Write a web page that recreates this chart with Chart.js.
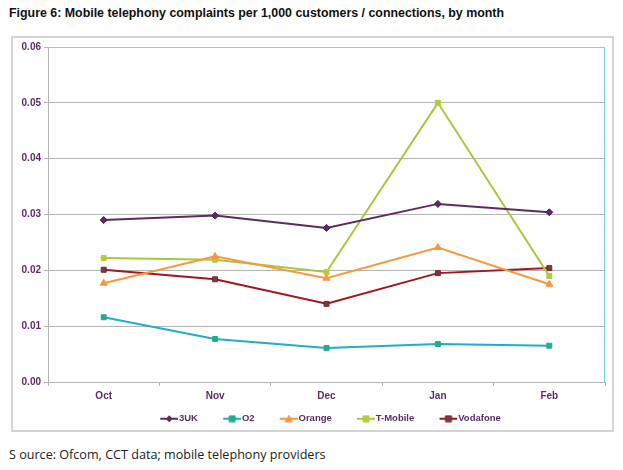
<!DOCTYPE html>
<html>
<head>
<meta charset="utf-8">
<script src="https://cdn.jsdelivr.net/npm/chart.js@4/dist/chart.umd.min.js"></script>
<style>
  html, body { margin: 0; padding: 0; background: #fff; }
  body { width: 623px; height: 470px; position: relative; overflow: hidden; }
  #title {
    position: absolute; left: 9px; top: 6px;
    font: bold 12.4px "Liberation Sans", Arial, sans-serif; color: #111;
    white-space: nowrap;
  }
  #frame {
    position: absolute; left: 11px; top: 36px; width: 599px; height: 392px;
    border: 2px solid #d4d4d4;
  }
  #source {
    position: absolute; left: 9px; top: 446px;
    font: 12.6px "Open Sans", "DejaVu Sans", sans-serif; color: #222;
    white-space: nowrap;
  }
</style>
</head>
<body>
<div id="title">Figure 6: Mobile telephony complaints per 1,000 customers / connections, by month</div>
<div id="frame"><canvas id="chart" width="599" height="392"></canvas></div>
<div id="source">S ource: Ofcom, CCT data; mobile telephony providers</div>

<script>
// Chart data
const months = ['Oct', 'Nov', 'Dec', 'Jan', 'Feb'];
const yTicks = [0, 0.01, 0.02, 0.03, 0.04, 0.05, 0.06];

const threeUK  = [0.0290, 0.0298, 0.0276, 0.0319, 0.0304];
const o2       = [0.0116, 0.0077, 0.0061, 0.0068, 0.0065];
const orange   = [0.0177, 0.0225, 0.0186, 0.0241, 0.0175];
const tMobile  = [0.0222, 0.0219, 0.0197, 0.0500, 0.0190];
const vodafone = [0.0201, 0.0184, 0.0140, 0.0195, 0.0204];

const labelColor = '#5b2c68';
const gridColor = '#b4b4b4';
const frameColor = '#7fd3de';

// legend sample: short line with the marker in the middle.
// The image is 30 wide but the sample sits in its right 18px, so it ends
// right next to the label text.
function legendSample(lineColor, markerFill, markerBorder, shape) {
    const c = document.createElement('canvas');
    c.width = 30; c.height = 8;
    const g = c.getContext('2d');
    g.strokeStyle = lineColor;
    g.lineWidth = 2;
    g.beginPath(); g.moveTo(12, 4); g.lineTo(30, 4); g.stroke();
    g.fillStyle = markerFill;
    g.strokeStyle = markerBorder;
    g.lineWidth = 1;
    g.beginPath();
    const m = 21;
    if (shape === 'diamond') {
        g.moveTo(m, 1); g.lineTo(m + 3, 4); g.lineTo(m, 7); g.lineTo(m - 3, 4);
    } else if (shape === 'triangle') {
        g.moveTo(m, 0.5); g.lineTo(m + 3.5, 7); g.lineTo(m - 3.5, 7);
    } else {
        g.rect(m - 3, 1, 6, 6);
    }
    g.closePath(); g.fill(); g.stroke();
    return c;
}

const series = [
    { label: '3UK',      data: threeUK,  line: '#5e2a61', fill: '#5e2a61', border: '#4a1f4d', style: 'rectRot',  shape: 'diamond',  r: 3.5 },
    { label: 'O2',       data: o2,       line: '#22aec4', fill: '#1fae8e', border: '#1fae8e', style: 'rect',     shape: 'square',   r: 3.5 },
    { label: 'Orange',   data: orange,   line: '#f7993c', fill: '#f7944a', border: '#f7944a', style: 'triangle', shape: 'triangle', r: 4 },
    { label: 'T-Mobile', data: tMobile,  line: '#a8c83a', fill: '#b4ca3c', border: '#b4ca3c', style: 'rect',     shape: 'square',   r: 3.5 },
    { label: 'Vodafone', data: vodafone, line: '#a3161f', fill: '#6b4048', border: '#8e1a22', style: 'rect',     shape: 'square',   r: 3.5 }
];

const legendImages = series.map(s => legendSample(s.line, s.fill, s.border, s.shape));

// cyan top/right border of the plot area
const plotFrame = {
    id: 'plotFrame',
    afterDraw(chart) {
        const { ctx, chartArea: a } = chart;
        ctx.save();
        ctx.strokeStyle = frameColor;
        ctx.lineWidth = 1;
        ctx.beginPath();
        ctx.moveTo(a.left, a.top + 0.5);
        ctx.lineTo(a.right - 0.5, a.top + 0.5);
        ctx.lineTo(a.right - 0.5, a.bottom);
        ctx.stroke();
        ctx.restore();
    }
};

const tickFont = { family: '"Liberation Sans", Arial, sans-serif', size: 10, weight: 'bold' };
const legendFont = { family: '"Liberation Sans", Arial, sans-serif', size: 9.5, weight: 'bold' };
const legendGap = '     '; // widens the space between legend items

new Chart(document.getElementById('chart'), {
    type: 'line',
    data: {
        labels: months,
        datasets: series.map(s => ({
            label: s.label,
            data: s.data,
            borderColor: s.line,
            backgroundColor: s.fill,
            pointBorderColor: s.border,
            pointBackgroundColor: s.fill,
            pointStyle: s.style,
            pointRadius: s.r,
            pointBorderWidth: 1,
            borderWidth: 2,
            tension: 0,
            fill: false
        }))
    },
    options: {
        responsive: false,
        animation: false,
        layout: { padding: { left: 0, right: 7, top: 8, bottom: 0 } },
        plugins: {
            title: { display: false },
            tooltip: { enabled: false },
            legend: {
                position: 'bottom',
                fullSize: false,
                maxHeight: 20,
                labels: {
                    usePointStyle: true,
                    pointStyleWidth: 22,
                    boxHeight: 8,
                    padding: 4,
                    color: labelColor,
                    font: legendFont,
                    generateLabels(chart) {
                        const n = chart.data.datasets.length;
                        return chart.data.datasets.map((ds, i) => ({
                            text: i < n - 1 ? ds.label + legendGap : ds.label,
                            pointStyle: legendImages[i],
                            fontColor: labelColor,
                            strokeStyle: ds.borderColor,
                            fillStyle: ds.backgroundColor,
                            lineWidth: 0,
                            hidden: false,
                            datasetIndex: i
                        }));
                    }
                }
            }
        },
        scales: {
            x: {
                offset: true,
                afterFit(scale) { scale.height = 28; },
                grid: {
                    offset: true,
                    drawOnChartArea: false,
                    drawTicks: true,
                    tickLength: 4,
                    color: gridColor
                },
                border: { color: gridColor, width: 1 },
                ticks: { color: labelColor, font: tickFont, padding: 4 }
            },
            y: {
                min: 0,
                max: 0.06,
                afterFit(scale) { scale.width = 35; },
                afterBuildTicks(scale) { scale.ticks = yTicks.map(v => ({ value: v })); },
                grid: {
                    color: ctx => (ctx.tick && ctx.tick.value === 0.06) ? frameColor : gridColor,
                    tickColor: gridColor,
                    tickLength: 4,
                    lineWidth: 1
                },
                border: { color: gridColor, width: 1 },
                ticks: {
                    color: labelColor,
                    font: tickFont,
                    padding: 3,
                    callback: v => Number(v).toFixed(2)
                }
            }
        }
    },
    plugins: [plotFrame]
});
</script>
</body>
</html>
